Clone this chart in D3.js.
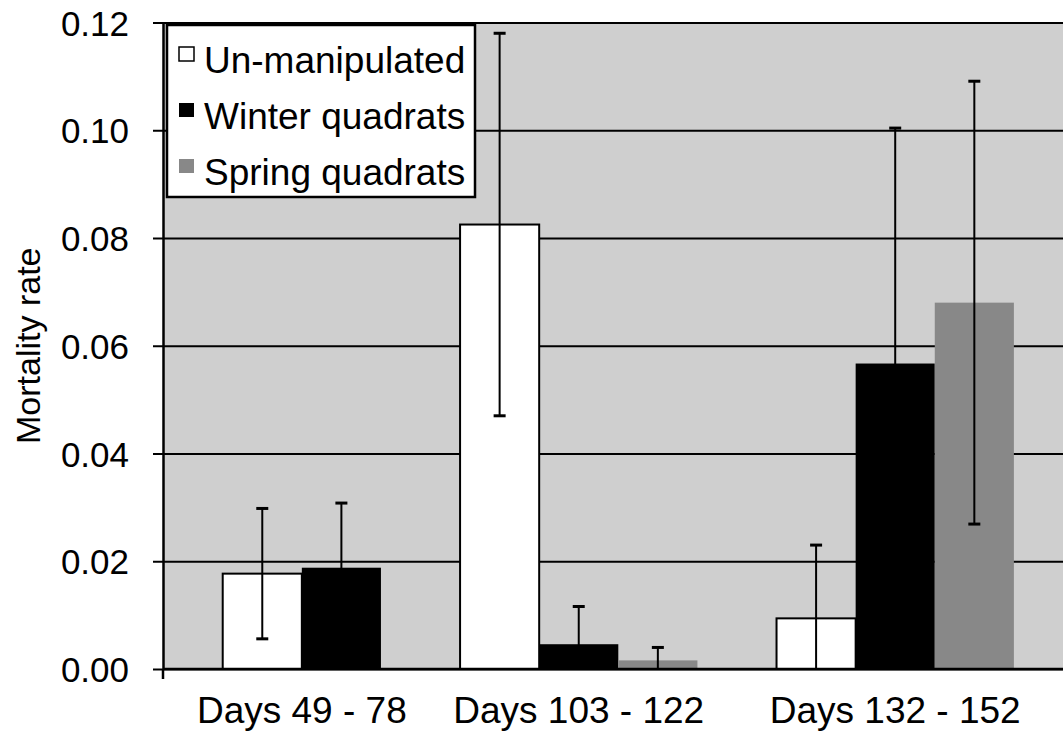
<!DOCTYPE html>
<html>
<head>
<meta charset="utf-8">
<script src="https://cdn.jsdelivr.net/npm/d3@7"></script>
<style>
  body { margin: 0; background: #fff; }
  svg { display: block; font-family: "Liberation Sans", Arial, Helvetica, sans-serif; }
</style>
</head>
<body>
<svg id="chart" width="1063" height="743"></svg>
<script>
// Chart values
var categories = ["Days 49 - 78", "Days 103 - 122", "Days 132 - 152"];
var seriesNames = ["Un-manipulated", "Winter quadrats", "Spring quadrats"];
var seriesColors = ["#ffffff", "#000000", "#888888"];

var unmanipulated = [0.0177, 0.0825, 0.0094];
var winter = [0.0188, 0.0046, 0.0567];
var spring = [null, 0.0016, 0.0680];

var errUnmanipulated = [0.0121, 0.0355, 0.0136];
var errWinter = [0.0120, 0.0070, 0.0437];
var errSpring = [null, 0.0024, 0.0411];

var yTicks = [0, 0.02, 0.04, 0.06, 0.08, 0.10, 0.12];

// Layout
var plotLeft = 163, plotTop = 22.5, plotBottom = 669, plotRight = 1093;
var svg = d3.select("#chart");

var values = [unmanipulated, winter, spring];
var errors = [errUnmanipulated, errWinter, errSpring];

// Build the bar list; missing values get no bar
var bars = [];
categories.forEach((cat, ci) => {
  seriesNames.forEach((name, si) => {
    if (values[si][ci] != null) {
      bars.push({ cat: cat, series: si, value: values[si][ci], err: errors[si][ci] });
    }
  });
});

// Slots: one empty slot before each group and one after the last
var slots = [];
categories.forEach((cat, ci) => {
  slots.push("gap" + ci);
  bars.filter(b => b.cat == cat).forEach(b => slots.push(b.cat + "|" + b.series));
});
slots.push("gapEnd");

var x = d3.scaleBand()
  .domain(slots)
  .range([plotLeft - 19.4, plotRight])
  .padding(0);

var y = d3.scaleLinear()
  .domain([0, 0.12])
  .range([plotBottom, plotTop]);

// Plot background
svg.append("rect")
  .attr("x", plotLeft)
  .attr("y", plotTop)
  .attr("width", plotRight - plotLeft)
  .attr("height", plotBottom - plotTop)
  .attr("fill", "#cfcfcf");

// Gridlines
var grid = svg.append("g")
  .attr("transform", `translate(${plotLeft},0)`)
  .call(d3.axisLeft(y).tickValues(yTicks).tickSize(-(plotRight - plotLeft)).tickFormat(""));
grid.select(".domain").remove();
grid.selectAll("line").attr("stroke", "#000").attr("stroke-width", 2);

// Bars
svg.append("g")
  .selectAll("rect")
  .data(bars)
  .join("rect")
  .attr("x", d => x(d.cat + "|" + d.series))
  .attr("y", d => y(d.value))
  .attr("width", x.bandwidth())
  .attr("height", d => y(0) - y(d.value))
  .attr("fill", d => seriesColors[d.series])
  .attr("stroke", d => d.series == 0 ? "#000" : "none")
  .attr("stroke-width", 2);

// Error bars (lower end stops at zero)
var errG = svg.append("g").attr("stroke", "#000").attr("stroke-width", 2);
bars.forEach(d => {
  var cx = x(d.cat + "|" + d.series) + x.bandwidth() / 2;
  var hi = d.value + d.err;
  var lo = Math.max(0, d.value - d.err);
  errG.append("line")
    .attr("x1", cx).attr("x2", cx)
    .attr("y1", y(lo)).attr("y2", y(hi));
  errG.append("line")
    .attr("x1", cx - 6).attr("x2", cx + 6)
    .attr("y1", y(hi)).attr("y2", y(hi))
    .attr("stroke-width", 3);
  if (d.value - d.err > 0) {
    errG.append("line")
      .attr("x1", cx - 6).attr("x2", cx + 6)
      .attr("y1", y(lo)).attr("y2", y(lo))
      .attr("stroke-width", 3);
  }
});

// Y axis
var yAxis = svg.append("g")
  .attr("transform", `translate(${plotLeft},0)`)
  .call(d3.axisLeft(y).tickValues(yTicks).tickFormat(d3.format(".2f")).tickSize(10).tickSizeOuter(0).tickPadding(24));
yAxis.select(".domain").attr("stroke-width", 2.5);
yAxis.selectAll("line").attr("stroke-width", 2);
yAxis.selectAll("text")
  .attr("font-size", 35)
  .attr("fill", "#000")
  .attr("dy", "0.36em")
  .style("font-family", "'Liberation Sans', Arial, sans-serif");

// X axis line with a single tick at the left end
svg.append("line")
  .attr("x1", plotLeft).attr("x2", plotRight)
  .attr("y1", plotBottom).attr("y2", plotBottom)
  .attr("stroke", "#000").attr("stroke-width", 2.5);
svg.append("line")
  .attr("x1", plotLeft).attr("x2", plotLeft)
  .attr("y1", plotBottom).attr("y2", plotBottom + 10)
  .attr("stroke", "#000").attr("stroke-width", 2.5);

// Category labels centred under each group of bars
svg.append("g")
  .selectAll("text")
  .data(categories)
  .join("text")
  .attr("x", cat => {
    var keys = slots.filter(s => s.startsWith(cat + "|"));
    return (x(keys[0]) + x(keys[keys.length - 1]) + x.bandwidth()) / 2;
  })
  .attr("y", 723)
  .attr("text-anchor", "middle")
  .attr("font-size", 37)
  .text(d => d);

// Y axis title
svg.append("text")
  .attr("transform", `translate(40,${(plotTop + plotBottom) / 2}) rotate(-90)`)
  .attr("text-anchor", "middle")
  .attr("font-size", 34)
  .text("Mortality rate");

// Legend
var legend = svg.append("g");
legend.append("rect")
  .attr("x", 167).attr("y", 25)
  .attr("width", 308).attr("height", 172)
  .attr("fill", "#fff")
  .attr("stroke", "#000")
  .attr("stroke-width", 2.5);

var legendItems = legend.selectAll("g.item")
  .data(seriesNames)
  .join("g")
  .attr("class", "item")
  .attr("transform", (d, i) => `translate(0,${i * 56})`);

legendItems.append("rect")
  .attr("x", 179).attr("y", 47)
  .attr("width", 15).attr("height", 14)
  .attr("fill", (d, i) => seriesColors[i])
  .attr("stroke", (d, i) => i == 0 ? "#000" : "none")
  .attr("stroke-width", 1.5);

legendItems.append("text")
  .attr("x", 204).attr("y", 73)
  .attr("font-size", 37)
  .text(d => d);
</script>
</body>
</html>
